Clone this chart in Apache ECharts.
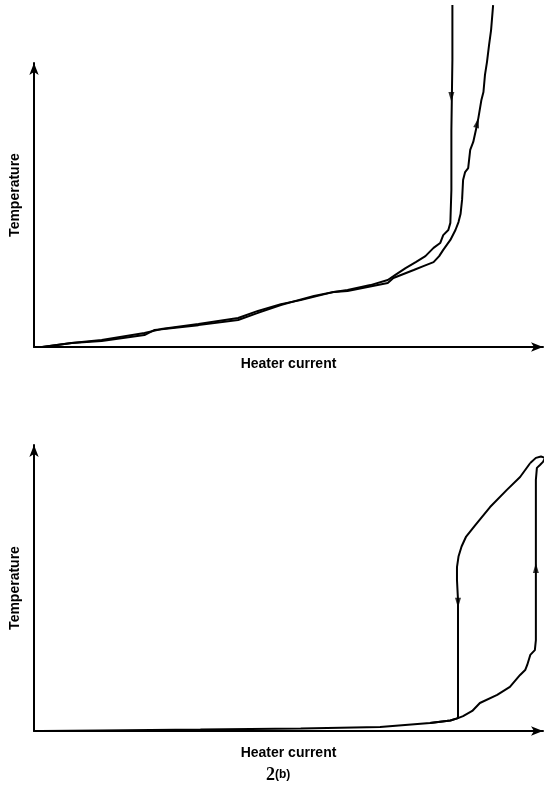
<!DOCTYPE html>
<html><head><meta charset="utf-8">
<script src="https://cdn.jsdelivr.net/npm/echarts@6/dist/echarts.min.js"></script>
<style>html,body{margin:0;padding:0;background:#fff}#c{width:546px;height:793px}</style>
</head><body><div id="c"></div>
<script>
const xLabel = 'Heater current';
const yLabel = 'Temperature';
const figLabel = '2(b)';

// Top panel (arbitrary units; 100 = axis arrow tip)
const topHeating = [[1.6,0.0],[7.4,1.4],[13.3,2.1],[21.7,4.2],[23.7,6.0],[32.3,7.7],[40.1,9.5],[44.0,12.0],[48.5,14.8],[55.0,18.0],[58.9,19.4],[61.6,19.7],[69.5,22.5],[70.6,24.3],[74.6,27.1],[76.5,28.5],[78.5,29.9],[79.6,32.0],[80.4,34.2],[81.8,37.7],[82.8,41.2],[83.4,44.0],[83.8,46.8],[84.1,51.8],[84.3,58.8],[84.7,61.6],[85.3,63.0],[85.7,69.4],[86.3,72.2],[86.9,77.1],[87.3,80.6],[87.9,87.0],[88.3,89.8],[88.6,95.8],[89.0,100.4],[89.4,106.3],[89.8,111.6],[90.2,120.4]];
const topCooling = [[82.2,120.4],[82.2,101.1],[82.0,76.4],[82.0,55.3],[81.8,43.7],[81.4,41.2],[80.4,39.4],[79.8,36.6],[78.5,34.9],[76.9,32.0],[75.0,29.9],[73.0,27.8],[71.0,25.4],[69.5,23.6],[66.1,21.8],[61.6,20.1],[58.9,19.4],[52.4,16.5],[48.5,15.1],[44.0,12.7],[40.1,10.2],[32.3,8.1],[25.0,6.3],[21.7,4.9],[13.3,2.5],[7.4,1.4],[1.6,0.0]];
const topArrowUp = [[87.1,78.9]];
const topArrowDown = [[82.0,88.0]];

// Bottom panel
const bottomHeating = [[1.4,0.0],[13.1,0.2],[32.7,0.5],[52.4,0.9],[68.0,1.4],[77.8,2.8],[81.8,3.7],[83.3,4.5],[84.3,5.2],[86.1,7.0],[87.6,9.8],[91.0,12.6],[93.5,15.4],[95.5,19.6],[96.5,21.3],[96.9,23.1],[97.5,26.6],[98.4,28.3],[98.6,31.8],[98.6,45.8],[98.6,66.8],[98.6,87.8],[98.8,92.0],[99.4,93.0],[100.0,94.1],[100.4,95.5],[99.6,96.0],[98.6,95.5],[97.5,93.7]];
const bottomCooling = [[97.5,93.7],[95.5,88.8],[92.9,84.3],[89.6,78.3],[86.7,72.0],[84.9,68.0],[84.0,64.5],[83.4,61.0],[83.1,57.3],[83.1,52.8],[83.3,45.8],[83.3,24.8],[83.3,4.5],[81.8,3.7],[77.8,2.8]];
const bottomArrowUp = [[98.6,57.0]];
const bottomArrowDown = [[83.3,44.8]];

const FONT = 'Liberation Sans, Arial, sans-serif';
const chart = echarts.init(document.getElementById('c'), null, {renderer:'canvas'});

function xAx(gi, gap){
  return {gridIndex:gi, type:'value', min:0, max:100,
    axisLine:{show:true, onZero:false, symbol:['none','arrow'], symbolSize:[7,12], lineStyle:{color:'#000', width:2}},
    axisTick:{show:false}, axisLabel:{show:false}, splitLine:{show:false},
    name:xLabel, nameLocation:'middle', nameGap:gap,
    nameTextStyle:{color:'#000', fontFamily:FONT, fontWeight:'bold', fontSize:14}};
}
function yAx(gi, gap, pad){
  return {gridIndex:gi, type:'value', min:0, max:100,
    axisLine:{show:true, onZero:false, symbol:['none','arrow'], symbolSize:[7,12], lineStyle:{color:'#000', width:2}},
    axisTick:{show:false}, axisLabel:{show:false}, splitLine:{show:false},
    name:yLabel, nameLocation:'middle', nameGap:gap, nameRotate:90,
    nameTextStyle:{color:'#000', fontFamily:FONT, fontWeight:'bold', fontSize:14, padding:pad}};
}
function curve(data, gi){
  return {type:'line', xAxisIndex:gi, yAxisIndex:gi, data:data, symbol:'none', showSymbol:false, clip:false,
    lineStyle:{color:'#000', width:2}, silent:true};
}
function arrows(data, gi, rot){
  return {type:'scatter', xAxisIndex:gi, yAxisIndex:gi, data:data, symbol:'triangle', symbolSize:[6,10],
    symbolRotate:rot, itemStyle:{color:'#000'}, clip:false, silent:true};
}

chart.setOption({
  animation:false,
  backgroundColor:'#fff',
  grid:[{left:32, top:63, width:511, height:284},{left:33, top:445, width:510, height:286}],
  xAxis:[xAx(0,10), xAx(1,15)],
  yAxis:[yAx(0,12,[0,0,0,20]), yAx(1,12,0)],
  title:{text:'{n|2}{s|(b)}', left:261, top:761,
    textStyle:{rich:{n:{fontFamily:'Liberation Serif, serif', fontSize:18, color:'#000'}, s:{fontFamily:FONT, fontSize:12, color:'#000'}}}},
  series:[
    curve(topHeating,0), curve(topCooling,0), arrows(topArrowUp,0,-14), arrows(topArrowDown,0,180),
    curve(bottomHeating,1), curve(bottomCooling,1), arrows(bottomArrowUp,1,0), arrows(bottomArrowDown,1,180)
  ]
});
</script></body></html>
